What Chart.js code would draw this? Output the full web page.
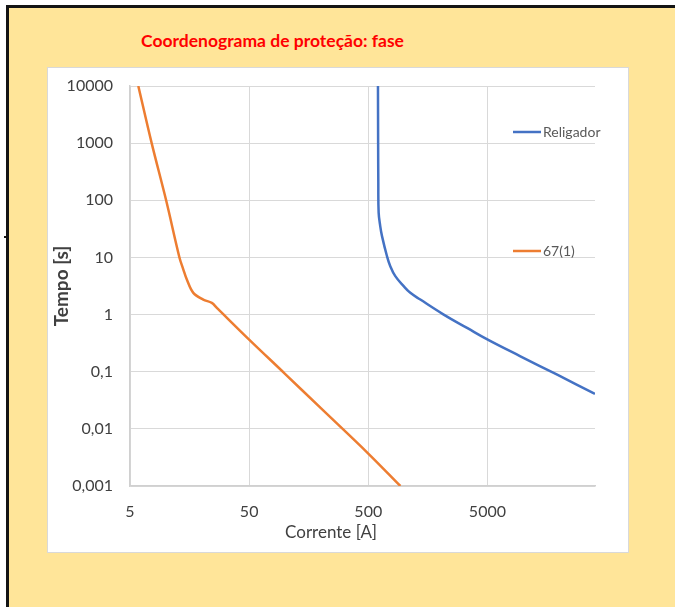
<!DOCTYPE html>
<html lang="pt-BR">
<head>
<meta charset="utf-8">
<title>Coordenograma de proteção: fase</title>
<script src="https://cdn.jsdelivr.net/npm/chart.js@4.4.1/dist/chart.umd.min.js"></script>
<style>
  html, body { margin: 0; padding: 0; background: #ffffff; }
  body { width: 675px; height: 607px; position: relative; overflow: hidden; font-family: Lato, "Open Sans", sans-serif; }
  #frame {
    position: absolute; left: 6px; top: 5px; right: 0; bottom: 0;
    background: #FFE599;
    border-top: 3px solid #141414; border-left: 3px solid #141414;
  }
  #tick { position: absolute; left: 4px; top: 236px; width: 4px; height: 2px; background: #141414; }
  #title {
    position: absolute; left: 141px; top: 30px;
    color: #FF0000; font: bold 17.5px Lato, "Open Sans", sans-serif; white-space: nowrap;
  }
  #panel {
    position: absolute; left: 47px; top: 67px; width: 580px; height: 484px;
    background: #ffffff; border: 1px solid #d9d9d9;
  }
  #panel canvas { display: block; }
</style>
</head>
<body>
<div id="frame"></div>
<div id="tick"></div>
<div id="title">Coordenograma de proteção: fase</div>
<div id="panel"><canvas id="chart" width="580" height="484"></canvas></div>
<script>
// Religador (recloser) curve: current [A] and trip time [s]
const religadorCurrent = [603, 605, 607, 611, 630, 652, 718, 765, 843, 991, 1127, 1367, 2148, 3374, 5033, 9465, 19270, 40000];
const religadorTime    = [10000, 1000, 200, 60.8, 35.4, 23.6, 10.5, 7.03, 4.70, 3.14, 2.40, 1.83, 1.0, 0.584, 0.364, 0.186, 0.0886, 0.041];

// 67(1) directional overcurrent relay curve
const rele67Current = [5.87, 7.6, 10.05, 13.0, 14.0, 15.0, 17.0, 20.6, 24.3, 26.8, 50, 100, 200, 500, 930];
const rele67Time    = [10000, 1000, 100, 10, 6.2, 4.1, 2.4, 1.83, 1.6, 1.31, 0.365, 0.092, 0.023, 0.0037, 0.001];

const seriesNames = ['Religador', '67(1)'];
const xAxisTitle = 'Corrente [A]';
const yAxisTitle = 'Tempo [s]';

// Axis ticks and their labels (decimal comma)
const xTicks = [5, 50, 500, 5000];
const xTickLabels = ['5', '50', '500', '5000'];
const yTicks = [0.001, 0.01, 0.1, 1, 10, 100, 1000, 10000];
const yTickLabels = ['0,001', '0,01', '0,1', '1', '10', '100', '1000', '10000'];

const toPoints = (xs, ys) => xs.map((x, i) => ({ x: x, y: ys[i] }));

// Legend drawn over the plot area, one entry per series, plus the current axis caption
const sideLegend = {
  id: 'sideLegend',
  afterDatasetsDraw(chart, args, opts) {
    const ctx = chart.ctx;
    ctx.save();
    ctx.font = opts.font;
    ctx.textBaseline = 'middle';
    ctx.textAlign = 'left';
    chart.data.datasets.forEach((ds, i) => {
      const y = opts.rows[i];
      ctx.strokeStyle = ds.borderColor;
      ctx.lineWidth = 2.5;
      ctx.beginPath();
      ctx.moveTo(opts.x, y);
      ctx.lineTo(opts.x + opts.lineLength, y);
      ctx.stroke();
      ctx.fillStyle = opts.color;
      ctx.fillText(ds.label, opts.x + opts.lineLength + 2, y);
    });
    // x axis caption
    ctx.font = opts.captionFont;
    ctx.fillStyle = opts.captionColor;
    ctx.textAlign = 'center';
    ctx.fillText(opts.caption, opts.captionX, opts.captionY);
    ctx.restore();
  }
};

const gridColor = '#d9d9d9';
const textColor = '#404040';

new Chart(document.getElementById('chart'), {
  type: 'scatter',
  data: {
    datasets: [
      {
        label: seriesNames[0],
        data: toPoints(religadorCurrent, religadorTime),
        showLine: true,
        borderColor: '#4472C4',
        backgroundColor: '#4472C4',
        borderWidth: 2.5,
        pointRadius: 0,
        tension: 0.4,
        clip: 0
      },
      {
        label: seriesNames[1],
        data: toPoints(rele67Current, rele67Time),
        showLine: true,
        borderColor: '#ED7D31',
        backgroundColor: '#ED7D31',
        borderWidth: 2.5,
        pointRadius: 0,
        tension: 0.35,
        clip: 0
      }
    ]
  },
  options: {
    responsive: false,
    animation: false,
    devicePixelRatio: 1,
    layout: { padding: { left: 0, top: 18, right: 33, bottom: 0 } },
    plugins: {
      legend: { display: false },
      tooltip: { enabled: false },
      sideLegend: {
        x: 465,
        lineLength: 28,
        rows: [64, 183],
        font: '14px Lato, "Open Sans", sans-serif',
        color: '#595959',
        caption: xAxisTitle,
        captionX: 283,
        captionY: 465,
        captionFont: '17px Lato, "Open Sans", sans-serif',
        captionColor: textColor
      }
    },
    scales: {
      x: {
        type: 'logarithmic',
        min: 5,
        max: 40000,
        afterBuildTicks: s => { s.ticks = xTicks.map(v => ({ value: v })); },
        afterFit: s => { s.height = 66; },
        grid: { color: gridColor, lineWidth: 1, drawTicks: true, tickLength: 16, tickColor: 'rgba(0,0,0,0)' },
        border: { color: '#d0d0d0', width: 1.5 },
        ticks: {
          autoSkip: false,
          maxRotation: 0,
          padding: 0,
          color: textColor,
          font: { family: 'Lato', size: 16 },
          callback: (v, i) => xTickLabels[i]
        },
        title: { display: false }
      },
      y: {
        type: 'logarithmic',
        min: 0.001,
        max: 10000,
        afterBuildTicks: s => { s.ticks = yTicks.map(v => ({ value: v })); },
        afterFit: s => { s.width = 82; },
        grid: { color: gridColor, lineWidth: 1, drawTicks: true, tickLength: 17, tickColor: 'rgba(0,0,0,0)' },
        border: { color: '#d0d0d0', width: 1.5 },
        ticks: {
          autoSkip: false,
          padding: 0,
          color: textColor,
          font: { family: 'Lato', size: 16 },
          callback: (v, i) => yTickLabels[i]
        },
        title: {
          display: true,
          text: yAxisTitle,
          color: textColor,
          font: { family: 'Lato', size: 19, weight: 'bold' },
          padding: { top: 2, bottom: 0 }
        }
      }
    }
  },
  plugins: [sideLegend]
});
</script>
</body>
</html>
